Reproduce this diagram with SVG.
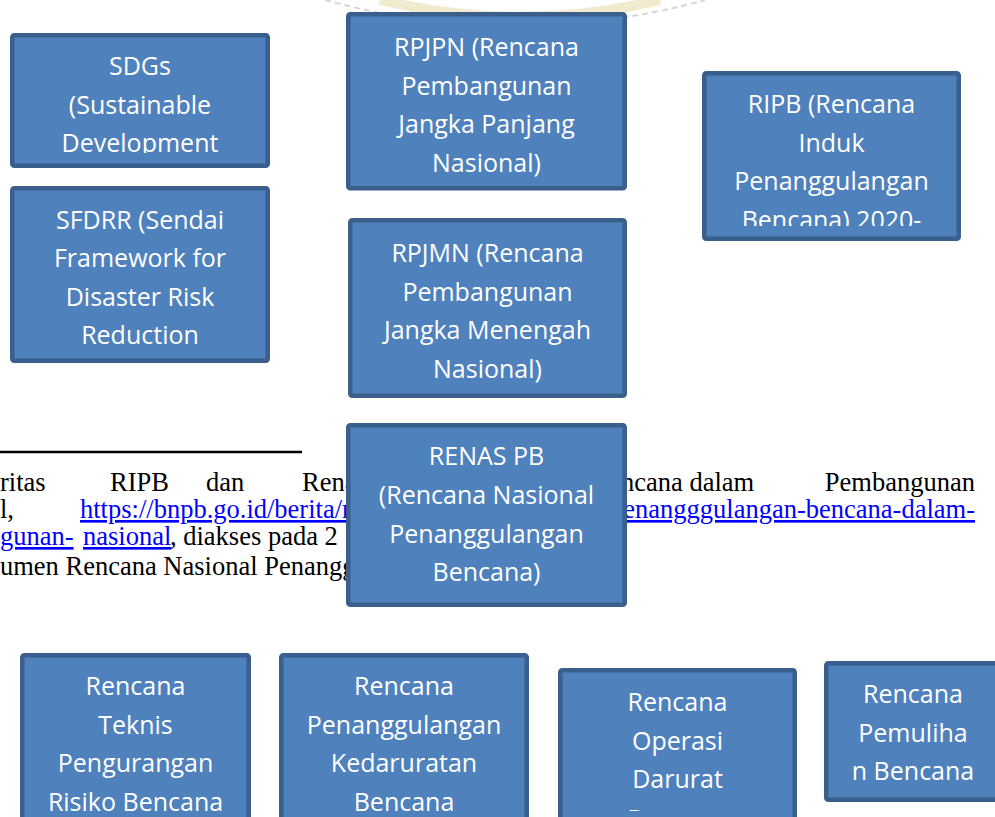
<svg xmlns="http://www.w3.org/2000/svg" width="995" height="817" viewBox="0 0 995 817">
<style>
.box{fill:#4f81bd;stroke:#3a5f8c;stroke-width:4.5}
.lbl{font-family:"Open Sans","Noto Sans","Liberation Sans",sans-serif;font-size:25px;fill:#ffffff;text-anchor:middle}
.fn{font-family:"Liberation Serif","Times New Roman",serif;font-size:26.5px;fill:#000000}
.lnk{fill:#0000ff;text-decoration:underline}
</style>
<defs>
<clipPath id="clipSDG"><rect x="12" y="35" width="256" height="118"/></clipPath>
<clipPath id="clipRIPB"><rect x="704" y="73" width="255" height="153"/></clipPath>
<clipPath id="clipRODB"><rect x="560" y="670" width="235" height="141"/></clipPath>
</defs>
<rect x="0" y="0" width="995" height="817" fill="#ffffff"/>
<g id="watermark" opacity="0.55">
<path d="M 325 0 A 715 715 0 0 0 705 0" fill="none" stroke="#b8b8b8" stroke-width="2" stroke-dasharray="6 4"/>
<path d="M 380 0 A 600 600 0 0 0 660 0" fill="none" stroke="#e6d9a8" stroke-width="10"/>
</g>
<g id="footnote">
<line x1="0" y1="452" x2="302" y2="452" stroke="#000" stroke-width="2.5"/>
<text class="fn" x="0" y="491">ritas</text>
<text class="fn" x="110" y="491">RIPB</text>
<text class="fn" x="206" y="491">dan</text>
<text class="fn" x="302" y="491">Rena</text>
<text class="fn" x="621" y="491">ncana dalam</text>
<text class="fn" x="975" y="491" text-anchor="end">Pembangunan</text>
<text class="fn" x="0" y="518">l,</text>
<text class="fn lnk" x="80" y="518">https://bnpb.go.id/berita/r</text>
<text class="fn lnk" x="975" y="518" text-anchor="end">enangggulangan-bencana-dalam-</text>
<text class="fn lnk" x="0" y="545">gunan-</text>
<text class="fn lnk" x="83" y="545">nasional</text>
<text class="fn" x="170" y="545">, diakses pada 2</text>
<text class="fn" x="0" y="575">umen Rencana Nasional Penanggu</text>
</g>
<g id="connectors"/>
<g id="sdgs">
<rect class="box" x="12.25" y="35.25" width="255.5" height="130.5" rx="2"/>
<g clip-path="url(#clipSDG)">
<text class="lbl" x="140" y="75">SDGs</text>
<text class="lbl" x="140" y="113.5">(Sustainable</text>
<text class="lbl" x="140" y="152">Development</text>
<text class="lbl" x="140" y="190.5">Goals)</text>
</g>
</g>
<g id="sfdrr">
<rect class="box" x="12.25" y="188.25" width="255.5" height="172.5" rx="2"/>
<text class="lbl" x="140" y="228.5">SFDRR (Sendai</text>
<text class="lbl" x="140" y="267">Framework for</text>
<text class="lbl" x="140" y="305.5">Disaster Risk</text>
<text class="lbl" x="140" y="344">Reduction</text>
</g>
<g id="rpjpn">
<rect class="box" x="348.25" y="14.25" width="276.5" height="174" rx="2"/>
<text class="lbl" x="486.5" y="56">RPJPN (Rencana</text>
<text class="lbl" x="486.5" y="94.5">Pembangunan</text>
<text class="lbl" x="486.5" y="133">Jangka Panjang</text>
<text class="lbl" x="486.5" y="171.5">Nasional)</text>
</g>
<g id="ripb">
<rect class="box" x="704.25" y="73.25" width="254.5" height="165.5" rx="2"/>
<g clip-path="url(#clipRIPB)">
<text class="lbl" x="831.5" y="113">RIPB (Rencana</text>
<text class="lbl" x="831.5" y="151.5">Induk</text>
<text class="lbl" x="831.5" y="190">Penanggulangan</text>
<text class="lbl" x="831.5" y="228.5">Bencana) 2020-</text>
</g>
</g>
<g id="rpjmn">
<rect class="box" x="350.25" y="220.25" width="274.5" height="175.5" rx="2"/>
<text class="lbl" x="487.5" y="262">RPJMN (Rencana</text>
<text class="lbl" x="487.5" y="300.5">Pembangunan</text>
<text class="lbl" x="487.5" y="339">Jangka Menengah</text>
<text class="lbl" x="487.5" y="377.5">Nasional)</text>
</g>
<g id="renaspb">
<rect class="box" x="348.25" y="425.25" width="276.5" height="179.5" rx="2"/>
<text class="lbl" x="486.5" y="465">RENAS PB</text>
<text class="lbl" x="486.5" y="504">(Rencana Nasional</text>
<text class="lbl" x="486.5" y="542.5">Penanggulangan</text>
<text class="lbl" x="486.5" y="581">Bencana)</text>
</g>
<g id="rtprb">
<rect class="box" x="22.25" y="655.25" width="226.5" height="180" rx="2"/>
<text class="lbl" x="135.5" y="695">Rencana</text>
<text class="lbl" x="135.5" y="733.5">Teknis</text>
<text class="lbl" x="135.5" y="772">Pengurangan</text>
<text class="lbl" x="135.5" y="810.5">Risiko Bencana</text>
</g>
<g id="rpkb">
<rect class="box" x="281.25" y="655.25" width="245.5" height="180" rx="2"/>
<text class="lbl" x="404" y="695">Rencana</text>
<text class="lbl" x="404" y="733.5">Penanggulangan</text>
<text class="lbl" x="404" y="772">Kedaruratan</text>
<text class="lbl" x="404" y="810.5">Bencana</text>
</g>
<g id="rodb">
<rect class="box" x="560.25" y="670.25" width="234.5" height="170" rx="2"/>
<g clip-path="url(#clipRODB)">
<text class="lbl" x="677.5" y="711">Rencana</text>
<text class="lbl" x="677.5" y="749.5">Operasi</text>
<text class="lbl" x="677.5" y="788">Darurat</text>
<text class="lbl" x="677.5" y="828">Bencana</text>
</g>
</g>
<g id="rpb">
<rect class="box" x="826.25" y="663.25" width="180" height="136.5" rx="2"/>
<text class="lbl" x="913" y="703">Rencana</text>
<text class="lbl" x="913" y="741.5">Pemuliha</text>
<text class="lbl" x="913" y="780">n Bencana</text>
</g>
</svg>
